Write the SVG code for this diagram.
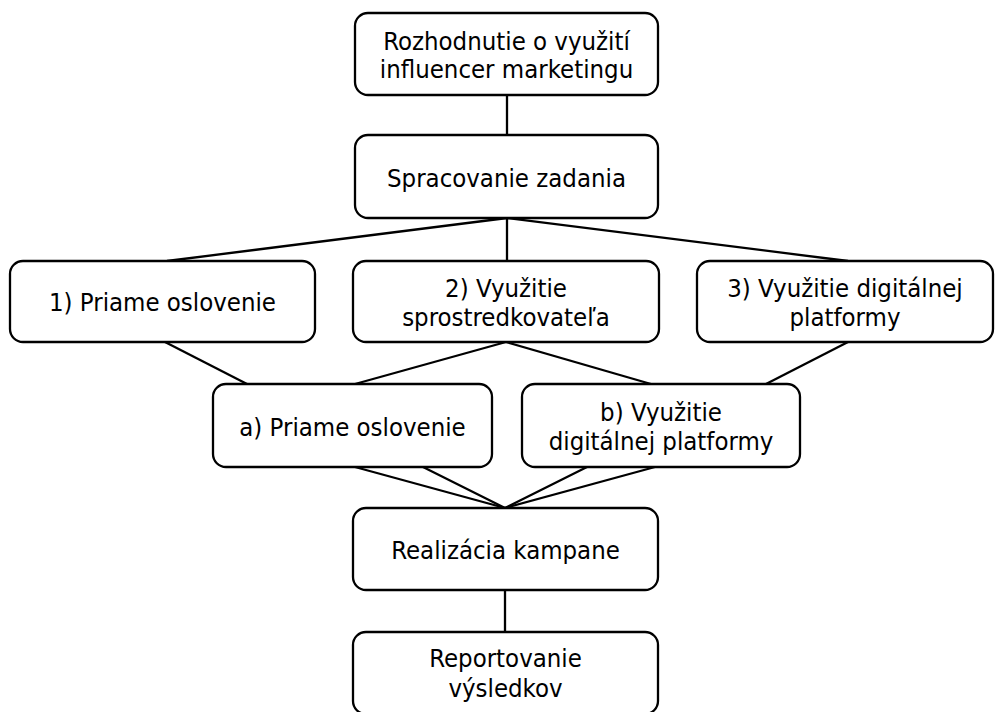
<svg xmlns="http://www.w3.org/2000/svg" width="995" height="712" viewBox="0 0 995 712">
<style>
.box{fill:#fff;stroke:#000;stroke-width:2.3}
.lbl{font-family:"DejaVu Sans Condensed","DejaVu Sans",sans-serif;font-stretch:condensed;font-size:25.5px;fill:#000;text-anchor:middle}
.conn line{stroke:#000;stroke-width:2.3}
</style>
<rect width="995" height="712" fill="#fff"/>
<g id="connectors" class="conn">
<line x1="507" y1="95" x2="507" y2="135"/>
<line x1="507" y1="218" x2="167" y2="261"/>
<line x1="507" y1="218" x2="507" y2="261"/>
<line x1="507" y1="218" x2="848" y2="261"/>
<line x1="165" y1="342" x2="247" y2="384"/>
<line x1="506" y1="342" x2="355" y2="384"/>
<line x1="506" y1="342" x2="651" y2="384"/>
<line x1="848" y1="342" x2="766" y2="384"/>
<line x1="355" y1="467" x2="505" y2="508"/>
<line x1="423" y1="467" x2="505" y2="508"/>
<line x1="587" y1="467" x2="505" y2="508"/>
<line x1="655" y1="467" x2="505" y2="508"/>
<line x1="505" y1="590" x2="505" y2="632"/>
</g>
<g id="n_rozhodnutie">
<rect class="box" x="355" y="13" width="303" height="82" rx="13"/>
<text class="lbl" x="506.5" y="50">Rozhodnutie o využití</text>
<text class="lbl" x="506.5" y="78">influencer marketingu</text>
</g>
<g id="n_spracovanie">
<rect class="box" x="355" y="135" width="303" height="83" rx="13"/>
<text class="lbl" x="506.5" y="187">Spracovanie zadania</text>
</g>
<g id="n_1">
<rect class="box" x="10" y="261" width="305" height="81" rx="13"/>
<text class="lbl" x="162.5" y="311">1) Priame oslovenie</text>
</g>
<g id="n_2">
<rect class="box" x="353" y="261" width="306" height="81" rx="13"/>
<text class="lbl" x="506" y="297">2) Využitie</text>
<text class="lbl" x="506" y="326">sprostredkovateľa</text>
</g>
<g id="n_3">
<rect class="box" x="697" y="261" width="296" height="81" rx="13"/>
<text class="lbl" x="845" y="297">3) Využitie digitálnej</text>
<text class="lbl" x="845" y="326">platformy</text>
</g>
<g id="n_a">
<rect class="box" x="213" y="384" width="279" height="83" rx="13"/>
<text class="lbl" x="352.5" y="436">a) Priame oslovenie</text>
</g>
<g id="n_b">
<rect class="box" x="522" y="384" width="278" height="83" rx="13"/>
<text class="lbl" x="661" y="421">b) Využitie</text>
<text class="lbl" x="661" y="450">digitálnej platformy</text>
</g>
<g id="n_realizacia">
<rect class="box" x="353" y="508" width="305" height="82" rx="13"/>
<text class="lbl" x="505.5" y="559">Realizácia kampane</text>
</g>
<g id="n_reportovanie">
<rect class="box" x="353" y="632" width="305" height="82" rx="13"/>
<text class="lbl" x="505.5" y="667">Reportovanie</text>
<text class="lbl" x="505.5" y="697">výsledkov</text>
</g>
</svg>
